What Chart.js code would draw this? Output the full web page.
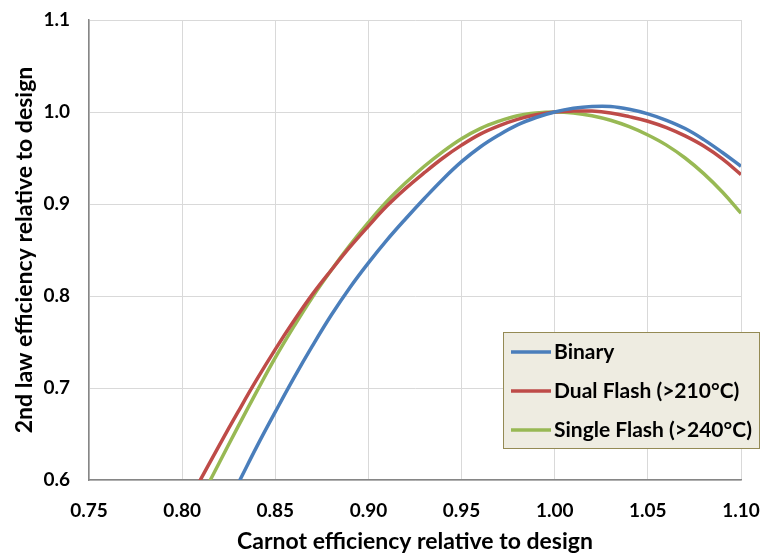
<!DOCTYPE html>
<html>
<head>
<meta charset="utf-8">
<script src="https://cdn.jsdelivr.net/npm/chart.js@4"></script>
<style>
  html, body { margin: 0; padding: 0; background: #fff; }
  #wrap { width: 772px; height: 553px; }
</style>
</head>
<body>
<div id="wrap"><canvas id="chart1"></canvas></div>
<script>
// Carnot efficiency relative to design (x)
const carnot = [0.80, 0.81, 0.82, 0.83, 0.84, 0.85, 0.86, 0.87, 0.88, 0.89,
                0.90, 0.91, 0.92, 0.93, 0.94, 0.95, 0.96, 0.97, 0.98, 0.99,
                1.00, 1.01, 1.02, 1.03, 1.04, 1.05, 1.06, 1.07, 1.08, 1.09, 1.10];

// 2nd law efficiency relative to design
const binary = [0.480, 0.520, 0.558, 0.596, 0.636, 0.674, 0.711, 0.746, 0.779, 0.809,
                0.836, 0.861, 0.884, 0.906, 0.927, 0.946, 0.962, 0.975, 0.986, 0.994,
                1.000, 1.004, 1.006, 1.006, 1.003, 0.998, 0.991, 0.982, 0.970, 0.956, 0.941];
const dualFlash = [0.564, 0.601, 0.638, 0.674, 0.709, 0.742, 0.773, 0.802, 0.828, 0.853,
                   0.876, 0.898, 0.917, 0.934, 0.950, 0.964, 0.976, 0.985, 0.992, 0.997,
                   1.000, 1.001, 1.001, 0.999, 0.995, 0.990, 0.983, 0.974, 0.963, 0.949, 0.932];
const singleFlash = [0.541, 0.580, 0.619, 0.658, 0.696, 0.733, 0.767, 0.799, 0.828, 0.855,
                     0.880, 0.903, 0.923, 0.941, 0.957, 0.971, 0.982, 0.990, 0.996, 0.999,
                     1.000, 0.999, 0.996, 0.991, 0.984, 0.975, 0.964, 0.950, 0.933, 0.913, 0.890];

const seriesNames = ['Binary', 'Dual Flash (>210°C)', 'Single Flash (>240°C)'];
const seriesColors = ['#4a7ebb', '#be4b48', '#98b954'];

const FONT = 'Lato, "Open Sans", sans-serif';

function toPoints(vals) {
  return carnot.map((x, i) => ({ x: x, y: vals[i] }));
}

// legend drawn inside the plot, bottom right, like the Excel original
const boxLegend = {
  id: 'boxLegend',
  afterDraw(chart) {
    const ctx = chart.ctx;
    const x0 = 503.5, y0 = 332.5, w = 256, h = 116;
    ctx.save();
    ctx.fillStyle = '#eeece1';
    ctx.strokeStyle = '#948a54';
    ctx.lineWidth = 1;
    ctx.fillRect(x0, y0, w, h);
    ctx.strokeRect(x0, y0, w, h);
    ctx.font = 'bold 21px ' + FONT;
    ctx.textBaseline = 'middle';
    ctx.fillStyle = '#000';
    chart.data.datasets.forEach((ds, i) => {
      const yy = 352 + i * 39;
      ctx.strokeStyle = ds.borderColor;
      ctx.lineWidth = 3.5;
      ctx.beginPath();
      ctx.moveTo(511, yy);
      ctx.lineTo(551, yy);
      ctx.stroke();
      ctx.fillText(ds.label, 554, yy);
    });
    ctx.restore();
  }
};

const ctx1 = document.getElementById('chart1');

new Chart(ctx1, {
  type: 'line',
  data: {
    datasets: [
      { label: seriesNames[0], data: toPoints(binary), borderColor: seriesColors[0] },
      { label: seriesNames[1], data: toPoints(dualFlash), borderColor: seriesColors[1] },
      { label: seriesNames[2], data: toPoints(singleFlash), borderColor: seriesColors[2] }
    ]
  },
  options: {
    responsive: true,
    maintainAspectRatio: false,
    animation: false,
    layout: { padding: { top: 20, right: 31, left: 0, bottom: 0 } },
    elements: {
      point: { radius: 0 },
      line: { borderWidth: 3.5, tension: 0.4, fill: false }
    },
    datasets: { line: { clip: 0 } },
    plugins: {
      legend: { display: false },
      tooltip: { enabled: false }
    },
    scales: {
      x: {
        type: 'linear',
        min: 0.75,
        max: 1.10,
        afterFit(scale) {
          scale.height = 73;
          scale.paddingLeft = 0;
          scale.paddingRight = 0;
        },
        ticks: {
          stepSize: 0.05,
          padding: 19,
          color: '#000',
          font: { family: FONT, size: 19, weight: 'bold' },
          callback: v => v.toFixed(2)
        },
        grid: { color: '#d9d9d9', drawTicks: false },
        border: { color: '#868686', width: 1.5 },
        title: {
          display: true,
          text: 'Carnot efficiency relative to design',
          color: '#000',
          font: { family: FONT, size: 23, weight: 'bold' },
          padding: { top: 0, bottom: -2 }
        }
      },
      y: {
        min: 0.6,
        max: 1.1,
        afterFit(scale) {
          scale.width = 89;
          scale.paddingTop = 0;
          scale.paddingBottom = 0;
        },
        ticks: {
          stepSize: 0.1,
          padding: 19,
          color: '#000',
          font: { family: FONT, size: 19, weight: 'bold' },
          callback: v => v.toFixed(1)
        },
        grid: { color: '#d9d9d9', drawTicks: false },
        border: { color: '#868686', width: 1.5 },
        title: {
          display: true,
          text: '2nd law efficiency relative to design',
          color: '#000',
          font: { family: FONT, size: 23, weight: 'bold' },
          padding: { top: 11, bottom: 0 }
        }
      }
    }
  },
  plugins: [boxLegend]
});
</script>
</body>
</html>
